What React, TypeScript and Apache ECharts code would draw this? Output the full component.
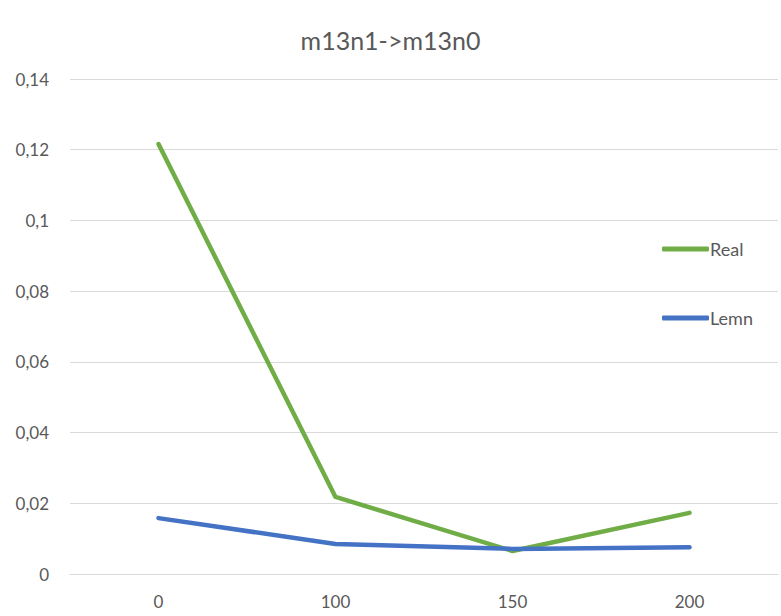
import React, { useEffect, useRef } from "react";
import * as echarts from "echarts";

const categories = ["0", "100", "150", "200"];
const realValues = [0.1216, 0.0218, 0.0065, 0.0173];
const lemnValues = [0.0158, 0.0085, 0.0071, 0.0076];
const chartTitle = "m13n1->m13n0";

export default function App() {
  const ref = useRef<HTMLDivElement>(null);
  useEffect(() => {
    if (!ref.current) return;
    const chart = echarts.init(ref.current, null, { renderer: "svg" });
    const font = "Lato, 'Open Sans', sans-serif";
    chart.setOption({
      animation: false,
      title: {
        text: chartTitle,
        left: "center",
        top: 22,
        textStyle: { fontFamily: font, fontSize: 25, fontWeight: "normal", color: "#595959" },
      },
      legend: {
        orient: "vertical",
        left: 657,
        top: 235,
        itemGap: 51,
        itemWidth: 47,
        itemHeight: 5,
        icon: "roundRect",
        textStyle: { fontFamily: font, fontSize: 18, color: "#595959", padding: [0, 0, 0, -4] },
        data: ["Real", "Lemn"],
      },
      grid: { left: 70, right: 3, top: 79, bottom: 42, containLabel: false },
      xAxis: {
        type: "category",
        data: categories,
        boundaryGap: true,
        axisLine: { show: true, lineStyle: { color: "#d9d9d9", width: 1 } },
        axisTick: { show: false },
        axisLabel: { fontFamily: font, fontSize: 17, color: "#595959", margin: 19 },
      },
      yAxis: {
        type: "value",
        min: 0,
        max: 0.14,
        interval: 0.02,
        axisLine: { show: false },
        axisTick: { show: false },
        splitLine: { lineStyle: { color: "#d9d9d9", width: 1 } },
        axisLabel: {
          fontFamily: font,
          fontSize: 17,
          color: "#595959",
          margin: 21,
          formatter: (v: number) => String(Math.round(v * 100) / 100).replace(".", ","),
        },
      },
      series: [
        {
          name: "Real",
          type: "line",
          data: realValues,
          showSymbol: false,
          symbol: "none",
          itemStyle: { color: "#70AD47" },
          lineStyle: { color: "#70AD47", width: 4.5, cap: "round", join: "round" },
        },
        {
          name: "Lemn",
          type: "line",
          data: lemnValues,
          showSymbol: false,
          symbol: "none",
          itemStyle: { color: "#4472C4" },
          lineStyle: { color: "#4472C4", width: 4.5, cap: "round", join: "round" },
        },
      ],
    });
    return () => chart.dispose();
  }, []);
  return (
    <div
      ref={ref}
      style={{ position: "fixed", left: 0, top: 0, width: 781, height: 616, background: "#fff" }}
    />
  );
}
